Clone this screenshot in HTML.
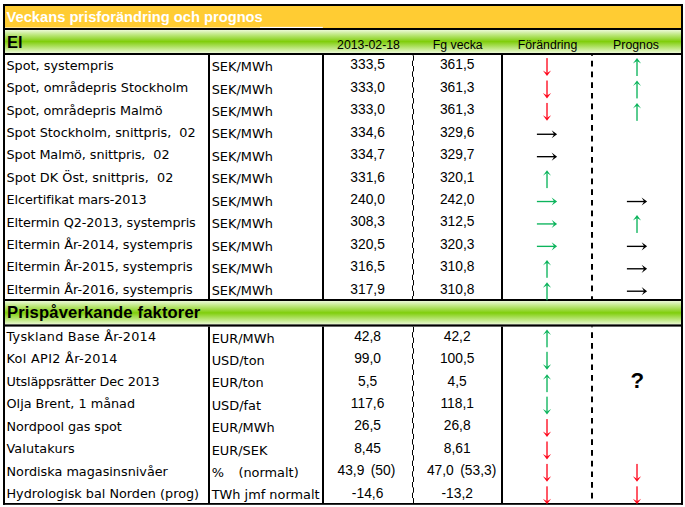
<!DOCTYPE html>
<html lang="sv"><head><meta charset="utf-8"><title>Veckans prisforändring och prognos</title>
<style>html,body{margin:0;padding:0;background:#fff}svg{display:block}.l{font-family:"DejaVu Sans","Liberation Sans",sans-serif;font-size:12.8px;fill:#000}.n{font-family:"Liberation Sans",sans-serif;font-size:13.8px;fill:#000;text-anchor:middle}.h{font-family:"Liberation Sans",sans-serif;font-size:12.3px;fill:#000;text-anchor:middle}.b{font-family:"Liberation Sans",sans-serif;font-weight:bold;fill:#000}</style></head><body>
<svg width="685" height="507" viewBox="0 0 685 507">
<defs><linearGradient id="g" x1="0" y1="0" x2="0" y2="1"><stop offset="0" stop-color="#ebf9d6"/><stop offset="0.2" stop-color="#bfe882"/><stop offset="0.5" stop-color="#80ce0c"/><stop offset="0.8" stop-color="#bfe882"/><stop offset="1" stop-color="#ebf9d6"/></linearGradient></defs>
<rect x="0" y="0" width="685" height="507" fill="#fff"/>
<rect x="4" y="5" width="678" height="23" fill="#ffcc33"/>
<rect x="5" y="27" width="255" height="1" fill="#ffe291"/>
<rect x="260" y="26.9" width="62.8" height="1.1" fill="#fff"/>
<rect x="4" y="30" width="678" height="23" fill="url(#g)"/>
<rect x="4" y="301" width="678" height="23.6" fill="url(#g)"/>
<rect x="3" y="4" width="680" height="2" fill="#000"/>
<rect x="3" y="28" width="680" height="2" fill="#000"/>
<rect x="3" y="53" width="680" height="2" fill="#000"/>
<rect x="3" y="299" width="680" height="2" fill="#000"/>
<rect x="3" y="324.4" width="680" height="2.2" fill="#000"/>
<rect x="3" y="503.0" width="680" height="1.8" fill="#000"/>
<rect x="3" y="4" width="2" height="500.8" fill="#000"/>
<rect x="681" y="4" width="2" height="500.8" fill="#000"/>
<rect x="208" y="55" width="2" height="244" fill="#000"/>
<rect x="322" y="55" width="2" height="244" fill="#000"/>
<rect x="501" y="55" width="2" height="244" fill="#000"/>
<line x1="412.5" y1="55" x2="412.5" y2="299" stroke="#000" stroke-width="1" stroke-dasharray="5.35 5.35" stroke-dashoffset="5.00"/>
<line x1="413.5" y1="55" x2="413.5" y2="299" stroke="#000" stroke-width="1" stroke-dasharray="5.35 5.35" stroke-dashoffset="-0.35"/>
<line x1="592" y1="55" x2="592" y2="299" stroke="#000" stroke-width="2" stroke-dasharray="5.7 5" stroke-dashoffset="4.90"/>
<rect x="208" y="326.6" width="2" height="176.89999999999998" fill="#000"/>
<rect x="322" y="326.6" width="2" height="176.89999999999998" fill="#000"/>
<rect x="501" y="326.6" width="2" height="176.89999999999998" fill="#000"/>
<line x1="412.5" y1="326.6" x2="412.5" y2="503.5" stroke="#000" stroke-width="1" stroke-dasharray="5.35 5.35" stroke-dashoffset="5.10"/>
<line x1="413.5" y1="326.6" x2="413.5" y2="503.5" stroke="#000" stroke-width="1" stroke-dasharray="5.35 5.35" stroke-dashoffset="-0.25"/>
<line x1="592" y1="326.6" x2="592" y2="503.5" stroke="#000" stroke-width="2" stroke-dasharray="5.7 5" stroke-dashoffset="5.00"/>
<text class="b" x="6.5" y="22" font-size="14.7" style="fill:#fff">Veckans prisforändring och prognos</text>
<text class="b" x="7" y="48" font-size="16.5">El</text>
<text class="b" x="7" y="318.3" font-size="16.6" style="letter-spacing:0.15px">Prispåverkande faktorer</text>
<text class="h" x="368.5" y="48.5">2013-02-18</text>
<text class="h" x="457.7" y="48.5">Fg vecka</text>
<text class="h" x="547.5" y="48.5">Förändring</text>
<text class="h" x="636" y="48.5">Prognos</text>
<text class="l" x="6.5" y="69.70" xml:space="preserve">Spot, systempris</text>
<text class="l" style="font-size:12.9px" x="211.7" y="71.20" xml:space="preserve">SEK/MWh</text>
<text class="n" x="367.6" y="69.40" xml:space="preserve">333,5</text>
<text class="n" x="457.2" y="69.40" xml:space="preserve">361,5</text>
<g fill="#ff0a1e" stroke="none"><rect x="546.33" y="58.10" width="1.35" height="14.80"/><path d="M547.00 76.00 L542.90 70.50 Q545.70 72.40 547.00 72.90 Q548.30 72.40 551.10 70.50 Z"/></g>
<g fill="#0cb45c" stroke="none"><rect x="636.33" y="61.20" width="1.35" height="14.80"/><path d="M637.00 58.10 L632.90 63.60 Q635.70 61.70 637.00 61.20 Q638.30 61.70 641.10 63.60 Z"/></g>
<text class="l" x="6.5" y="92.12" xml:space="preserve">Spot, områdepris Stockholm</text>
<text class="l" style="font-size:12.9px" x="211.7" y="93.62" xml:space="preserve">SEK/MWh</text>
<text class="n" x="367.6" y="91.82" xml:space="preserve">333,0</text>
<text class="n" x="457.2" y="91.82" xml:space="preserve">361,3</text>
<g fill="#ff0a1e" stroke="none"><rect x="546.33" y="80.52" width="1.35" height="14.80"/><path d="M547.00 98.42 L542.90 92.92 Q545.70 94.82 547.00 95.32 Q548.30 94.82 551.10 92.92 Z"/></g>
<g fill="#0cb45c" stroke="none"><rect x="636.33" y="83.62" width="1.35" height="14.80"/><path d="M637.00 80.52 L632.90 86.02 Q635.70 84.12 637.00 83.62 Q638.30 84.12 641.10 86.02 Z"/></g>
<text class="l" style="letter-spacing:-0.048px" x="6.5" y="114.54" xml:space="preserve">Spot, områdepris Malmö</text>
<text class="l" style="font-size:12.9px" x="211.7" y="116.04" xml:space="preserve">SEK/MWh</text>
<text class="n" x="367.6" y="114.24" xml:space="preserve">333,0</text>
<text class="n" x="457.2" y="114.24" xml:space="preserve">361,3</text>
<g fill="#ff0a1e" stroke="none"><rect x="546.33" y="102.94" width="1.35" height="14.80"/><path d="M547.00 120.84 L542.90 115.34 Q545.70 117.24 547.00 117.74 Q548.30 117.24 551.10 115.34 Z"/></g>
<g fill="#0cb45c" stroke="none"><rect x="636.33" y="106.04" width="1.35" height="14.80"/><path d="M637.00 102.94 L632.90 108.44 Q635.70 106.54 637.00 106.04 Q638.30 106.54 641.10 108.44 Z"/></g>
<text class="l" x="6.5" y="136.96" xml:space="preserve">Spot Stockholm, snittpris,  02</text>
<text class="l" style="font-size:12.9px" x="211.7" y="138.46" xml:space="preserve">SEK/MWh</text>
<text class="n" x="367.6" y="136.66" xml:space="preserve">334,6</text>
<text class="n" x="457.2" y="136.66" xml:space="preserve">329,6</text>
<g fill="#000" stroke="none"><rect x="536.90" y="133.59" width="17.10" height="1.35"/><path d="M557.10 134.26 L551.60 130.16 Q553.50 132.96 554.00 134.26 Q553.50 135.56 551.60 138.36 Z"/></g>
<text class="l" style="letter-spacing:-0.056px" x="6.5" y="159.38" xml:space="preserve">Spot Malmö, snittpris,  02</text>
<text class="l" style="font-size:12.9px" x="211.7" y="160.88" xml:space="preserve">SEK/MWh</text>
<text class="n" x="367.6" y="159.08" xml:space="preserve">334,7</text>
<text class="n" x="457.2" y="159.08" xml:space="preserve">329,7</text>
<g fill="#000" stroke="none"><rect x="536.90" y="156.00" width="17.10" height="1.35"/><path d="M557.10 156.68 L551.60 152.58 Q553.50 155.38 554.00 156.68 Q553.50 157.98 551.60 160.78 Z"/></g>
<text class="l" style="letter-spacing:0.038px" x="6.5" y="181.80" xml:space="preserve">Spot DK Öst, snittpris,  02</text>
<text class="l" style="font-size:12.9px" x="211.7" y="183.30" xml:space="preserve">SEK/MWh</text>
<text class="n" x="367.6" y="181.50" xml:space="preserve">331,6</text>
<text class="n" x="457.2" y="181.50" xml:space="preserve">320,1</text>
<g fill="#0cb45c" stroke="none"><rect x="546.33" y="173.30" width="1.35" height="14.80"/><path d="M547.00 170.20 L542.90 175.70 Q545.70 173.80 547.00 173.30 Q548.30 173.80 551.10 175.70 Z"/></g>
<text class="l" style="letter-spacing:-0.090px" x="6.5" y="204.22" xml:space="preserve">Elcertifikat mars-2013</text>
<text class="l" style="font-size:12.9px" x="211.7" y="205.72" xml:space="preserve">SEK/MWh</text>
<text class="n" x="367.6" y="203.92" xml:space="preserve">240,0</text>
<text class="n" x="457.2" y="203.92" xml:space="preserve">242,0</text>
<g fill="#0cb45c" stroke="none"><rect x="536.90" y="200.85" width="17.10" height="1.35"/><path d="M557.10 201.52 L551.60 197.42 Q553.50 200.22 554.00 201.52 Q553.50 202.82 551.60 205.62 Z"/></g>
<g fill="#000" stroke="none"><rect x="626.90" y="200.85" width="17.10" height="1.35"/><path d="M647.10 201.52 L641.60 197.42 Q643.50 200.22 644.00 201.52 Q643.50 202.82 641.60 205.62 Z"/></g>
<text class="l" style="letter-spacing:-0.070px" x="6.5" y="226.64" xml:space="preserve">Eltermin Q2-2013, systempris</text>
<text class="l" style="font-size:12.9px" x="211.7" y="228.14" xml:space="preserve">SEK/MWh</text>
<text class="n" x="367.6" y="226.34" xml:space="preserve">308,3</text>
<text class="n" x="457.2" y="226.34" xml:space="preserve">312,5</text>
<g fill="#0cb45c" stroke="none"><rect x="536.90" y="223.26" width="17.10" height="1.35"/><path d="M557.10 223.94 L551.60 219.84 Q553.50 222.64 554.00 223.94 Q553.50 225.24 551.60 228.04 Z"/></g>
<g fill="#0cb45c" stroke="none"><rect x="636.33" y="218.14" width="1.35" height="14.80"/><path d="M637.00 215.04 L632.90 220.54 Q635.70 218.64 637.00 218.14 Q638.30 218.64 641.10 220.54 Z"/></g>
<text class="l" x="6.5" y="249.06" xml:space="preserve">Eltermin År-2014, systempris</text>
<text class="l" style="font-size:12.9px" x="211.7" y="250.56" xml:space="preserve">SEK/MWh</text>
<text class="n" x="367.6" y="248.76" xml:space="preserve">320,5</text>
<text class="n" x="457.2" y="248.76" xml:space="preserve">320,3</text>
<g fill="#0cb45c" stroke="none"><rect x="536.90" y="245.69" width="17.10" height="1.35"/><path d="M557.10 246.36 L551.60 242.26 Q553.50 245.06 554.00 246.36 Q553.50 247.66 551.60 250.46 Z"/></g>
<g fill="#000" stroke="none"><rect x="626.90" y="245.69" width="17.10" height="1.35"/><path d="M647.10 246.36 L641.60 242.26 Q643.50 245.06 644.00 246.36 Q643.50 247.66 641.60 250.46 Z"/></g>
<text class="l" x="6.5" y="271.48" xml:space="preserve">Eltermin År-2015, systempris</text>
<text class="l" style="font-size:12.9px" x="211.7" y="272.98" xml:space="preserve">SEK/MWh</text>
<text class="n" x="367.6" y="271.18" xml:space="preserve">316,5</text>
<text class="n" x="457.2" y="271.18" xml:space="preserve">310,8</text>
<g fill="#0cb45c" stroke="none"><rect x="546.33" y="262.98" width="1.35" height="14.80"/><path d="M547.00 259.88 L542.90 265.38 Q545.70 263.48 547.00 262.98 Q548.30 263.48 551.10 265.38 Z"/></g>
<g fill="#000" stroke="none"><rect x="626.90" y="268.11" width="17.10" height="1.35"/><path d="M647.10 268.78 L641.60 264.68 Q643.50 267.48 644.00 268.78 Q643.50 270.08 641.60 272.88 Z"/></g>
<text class="l" x="6.5" y="293.90" xml:space="preserve">Eltermin År-2016, systempris</text>
<text class="l" style="font-size:12.9px" x="211.7" y="295.40" xml:space="preserve">SEK/MWh</text>
<text class="n" x="367.6" y="293.60" xml:space="preserve">317,9</text>
<text class="n" x="457.2" y="293.60" xml:space="preserve">310,8</text>
<g fill="#0cb45c" stroke="none"><rect x="546.33" y="285.40" width="1.35" height="14.80"/><path d="M547.00 282.30 L542.90 287.80 Q545.70 285.90 547.00 285.40 Q548.30 285.90 551.10 287.80 Z"/></g>
<g fill="#000" stroke="none"><rect x="626.90" y="290.53" width="17.10" height="1.35"/><path d="M647.10 291.20 L641.60 287.10 Q643.50 289.90 644.00 291.20 Q643.50 292.50 641.60 295.30 Z"/></g>
<text class="l" style="letter-spacing:0.240px" x="6.5" y="341.00" xml:space="preserve">Tyskland Base År-2014</text>
<text class="l" style="font-size:12.9px" x="211.7" y="342.50" xml:space="preserve">EUR/MWh</text>
<text class="n" x="367.6" y="340.70" xml:space="preserve">42,8</text>
<text class="n" x="457.2" y="340.70" xml:space="preserve">42,2</text>
<g fill="#0cb45c" stroke="none"><rect x="546.33" y="332.50" width="1.35" height="14.80"/><path d="M547.00 329.40 L542.90 334.90 Q545.70 333.00 547.00 332.50 Q548.30 333.00 551.10 334.90 Z"/></g>
<text class="l" style="letter-spacing:0.327px" x="6.5" y="363.42" xml:space="preserve">Kol API2 År-2014</text>
<text class="l" style="font-size:12.9px" x="211.7" y="364.92" xml:space="preserve">USD/ton</text>
<text class="n" x="367.6" y="363.12" xml:space="preserve">99,0</text>
<text class="n" x="457.2" y="363.12" xml:space="preserve">100,5</text>
<g fill="#0cb45c" stroke="none"><rect x="546.33" y="351.82" width="1.35" height="14.80"/><path d="M547.00 369.72 L542.90 364.22 Q545.70 366.12 547.00 366.62 Q548.30 366.12 551.10 364.22 Z"/></g>
<text class="l" style="letter-spacing:-0.177px" x="6.5" y="385.84" xml:space="preserve">Utsläppsrätter Dec 2013</text>
<text class="l" style="font-size:12.9px" x="211.7" y="387.34" xml:space="preserve">EUR/ton</text>
<text class="n" x="367.6" y="385.54" xml:space="preserve">5,5</text>
<text class="n" x="457.2" y="385.54" xml:space="preserve">4,5</text>
<g fill="#0cb45c" stroke="none"><rect x="546.33" y="377.34" width="1.35" height="14.80"/><path d="M547.00 374.24 L542.90 379.74 Q545.70 377.84 547.00 377.34 Q548.30 377.84 551.10 379.74 Z"/></g>
<text class="b" x="637.2" y="388.14" font-size="22.3" text-anchor="middle">?</text>
<text class="l" x="6.5" y="408.26" xml:space="preserve">Olja Brent, 1 månad</text>
<text class="l" style="font-size:12.9px" x="211.7" y="409.76" xml:space="preserve">USD/fat</text>
<text class="n" x="367.6" y="407.96" xml:space="preserve">117,6</text>
<text class="n" x="457.2" y="407.96" xml:space="preserve">118,1</text>
<g fill="#0cb45c" stroke="none"><rect x="546.33" y="396.66" width="1.35" height="14.80"/><path d="M547.00 414.56 L542.90 409.06 Q545.70 410.96 547.00 411.46 Q548.30 410.96 551.10 409.06 Z"/></g>
<text class="l" style="letter-spacing:-0.062px" x="6.5" y="430.68" xml:space="preserve">Nordpool gas spot</text>
<text class="l" style="font-size:12.9px" x="211.7" y="432.18" xml:space="preserve">EUR/MWh</text>
<text class="n" x="367.6" y="430.38" xml:space="preserve">26,5</text>
<text class="n" x="457.2" y="430.38" xml:space="preserve">26,8</text>
<g fill="#ff0a1e" stroke="none"><rect x="546.33" y="419.08" width="1.35" height="14.80"/><path d="M547.00 436.98 L542.90 431.48 Q545.70 433.38 547.00 433.88 Q548.30 433.38 551.10 431.48 Z"/></g>
<text class="l" style="letter-spacing:0.111px" x="6.5" y="453.10" xml:space="preserve">Valutakurs</text>
<text class="l" style="font-size:12.9px" x="211.7" y="454.60" xml:space="preserve">EUR/SEK</text>
<text class="n" x="367.6" y="452.80" xml:space="preserve">8,45</text>
<text class="n" x="457.2" y="452.80" xml:space="preserve">8,61</text>
<g fill="#ff0a1e" stroke="none"><rect x="546.33" y="441.50" width="1.35" height="14.80"/><path d="M547.00 459.40 L542.90 453.90 Q545.70 455.80 547.00 456.30 Q548.30 455.80 551.10 453.90 Z"/></g>
<text class="l" x="6.5" y="475.52" xml:space="preserve">Nordiska magasinsnivåer</text>
<text class="l" style="font-size:12.9px;word-spacing:-0.48px" x="211.7" y="477.02" xml:space="preserve">%    (normalt)</text>
<text class="n" style="word-spacing:2.6px" x="366.4" y="475.22" xml:space="preserve">43,9 (50)</text>
<text class="n" style="word-spacing:2.6px" x="461.6" y="475.22" xml:space="preserve">47,0 (53,3)</text>
<g fill="#ff0a1e" stroke="none"><rect x="546.33" y="463.92" width="1.35" height="14.80"/><path d="M547.00 481.82 L542.90 476.32 Q545.70 478.22 547.00 478.72 Q548.30 478.22 551.10 476.32 Z"/></g>
<g fill="#ff0a1e" stroke="none"><rect x="636.33" y="463.92" width="1.35" height="14.80"/><path d="M637.00 481.82 L632.90 476.32 Q635.70 478.22 637.00 478.72 Q638.30 478.22 641.10 476.32 Z"/></g>
<text class="l" x="6.5" y="497.94" xml:space="preserve">Hydrologisk bal Norden (prog)</text>
<text class="l" style="font-size:12.9px" x="211.7" y="499.44" xml:space="preserve">TWh jmf normalt</text>
<text class="n" x="367.6" y="497.64" xml:space="preserve">-14,6</text>
<text class="n" x="457.2" y="497.64" xml:space="preserve">-13,2</text>
<g fill="#ff0a1e" stroke="none"><rect x="546.33" y="486.34" width="1.35" height="14.80"/><path d="M547.00 504.24 L542.90 498.74 Q545.70 500.64 547.00 501.14 Q548.30 500.64 551.10 498.74 Z"/></g>
<g fill="#ff0a1e" stroke="none"><rect x="636.33" y="486.34" width="1.35" height="14.80"/><path d="M637.00 504.24 L632.90 498.74 Q635.70 500.64 637.00 501.14 Q638.30 500.64 641.10 498.74 Z"/></g>
</svg></body></html>
